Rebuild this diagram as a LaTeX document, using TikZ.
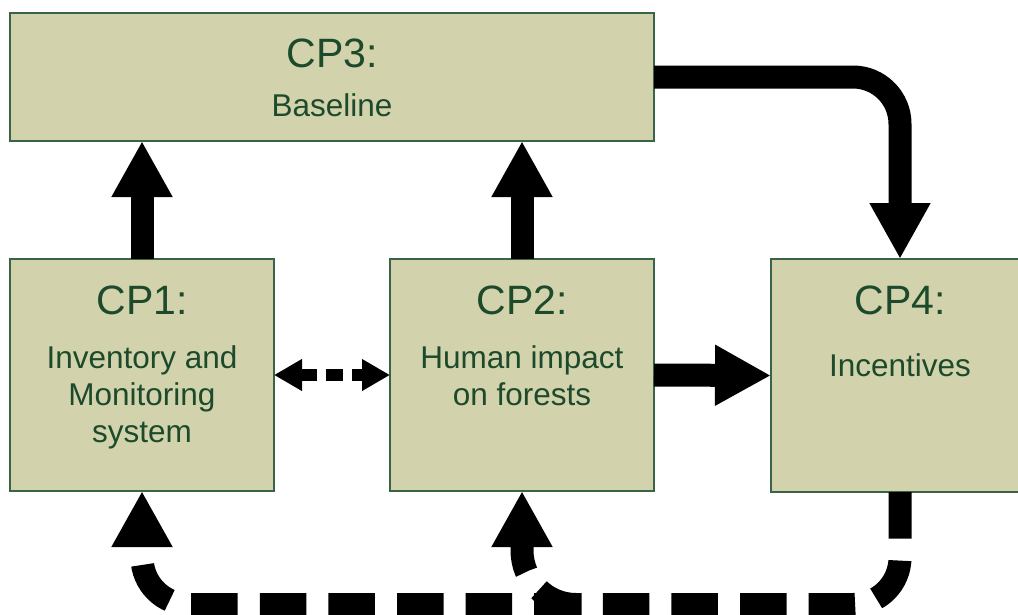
\documentclass[tikz,border=0pt]{standalone}
\usepackage{fontspec}
\setmainfont{Liberation Sans}
\usetikzlibrary{arrows.meta}
\definecolor{boxfill}{RGB}{210,211,173}
\definecolor{boxline}{RGB}{58,100,72}
\definecolor{txtgreen}{RGB}{28,74,42}
\tikzset{
  box/.style={draw=boxline, line width=1.2pt, fill=boxfill, rectangle, inner sep=0pt, outer sep=0pt},
  title/.style={anchor=base, inner sep=0pt, text=txtgreen, font=\fontsize{41}{49}\selectfont},
  body/.style={anchor=base, inner sep=0pt, text=txtgreen, font=\fontsize{31.5}{37}\selectfont},
  bigtip/.tip={Triangle[width=57pt,length=56pt]},
  smalltip/.tip={Triangle[width=30pt,length=28pt]},
  fat/.style={line width=23pt, -bigtip},
  fatdash/.style={line width=23pt, -bigtip, dash pattern=on 46.5pt off 22.1pt},
}
\begin{document}
\begin{tikzpicture}[x=1pt,y=-1pt]
\useasboundingbox (0,0) rectangle (1018,614);
% boxes
\node[box, minimum width=644pt, minimum height=128pt] (cp3) at (332,77) {};
\node[box, minimum width=264pt, minimum height=232pt] (cp1) at (142,375) {};
\node[box, minimum width=264pt, minimum height=232pt] (cp2) at (522,375) {};
\node[box, minimum width=258pt, minimum height=233pt] (cp4) at (900,375.5) {};
% texts
\node[title] (t3) at (332,67.7) {CP3:};
\node[body] (b3) at (332,116.7) {Baseline};
\node[title] (t1) at (142,314.3) {CP1:};
\node[body] (b1a) at (142,368) {Inventory and};
\node[body] (b1b) at (142,405) {Monitoring};
\node[body] (b1c) at (142,442) {system};
\node[title] (t2) at (522,314.3) {CP2:};
\node[body] (b2a) at (522,368.3) {Human impact};
\node[body] (b2b) at (522,405) {on forests};
\node[title] (t4) at (900,314.3) {CP4:};
\node[body] (b4) at (900,376.7) {Incentives};
% solid arrows
\draw[fat] (cp1.north) -- (cp1.north |- cp3.south);
\draw[fat] (cp2.north) -- (cp2.north |- cp3.south);
\draw[fat] (cp2.east) -- (cp4.west);
\draw[fat, rounded corners=47pt] (cp3.east) -| (cp4.north);
% dashed double arrow
\draw[line width=12pt, smalltip-smalltip, dash pattern=on 17pt off 9pt] (cp1.east) -- (cp2.west);
% bottom dashed feedback
\coordinate (br) at (900,604.5);
\coordinate (bl) at (142,604.5);
\coordinate (split) at (581.7,604.5);
\draw[fatdash, rounded corners=47pt] (cp4.south) -- (br) -- (bl) -- (cp1.south);
\draw[fatdash, rounded corners=54pt] (split) -- (cp2.south |- split) -- (cp2.south);
\end{tikzpicture}
\end{document}
